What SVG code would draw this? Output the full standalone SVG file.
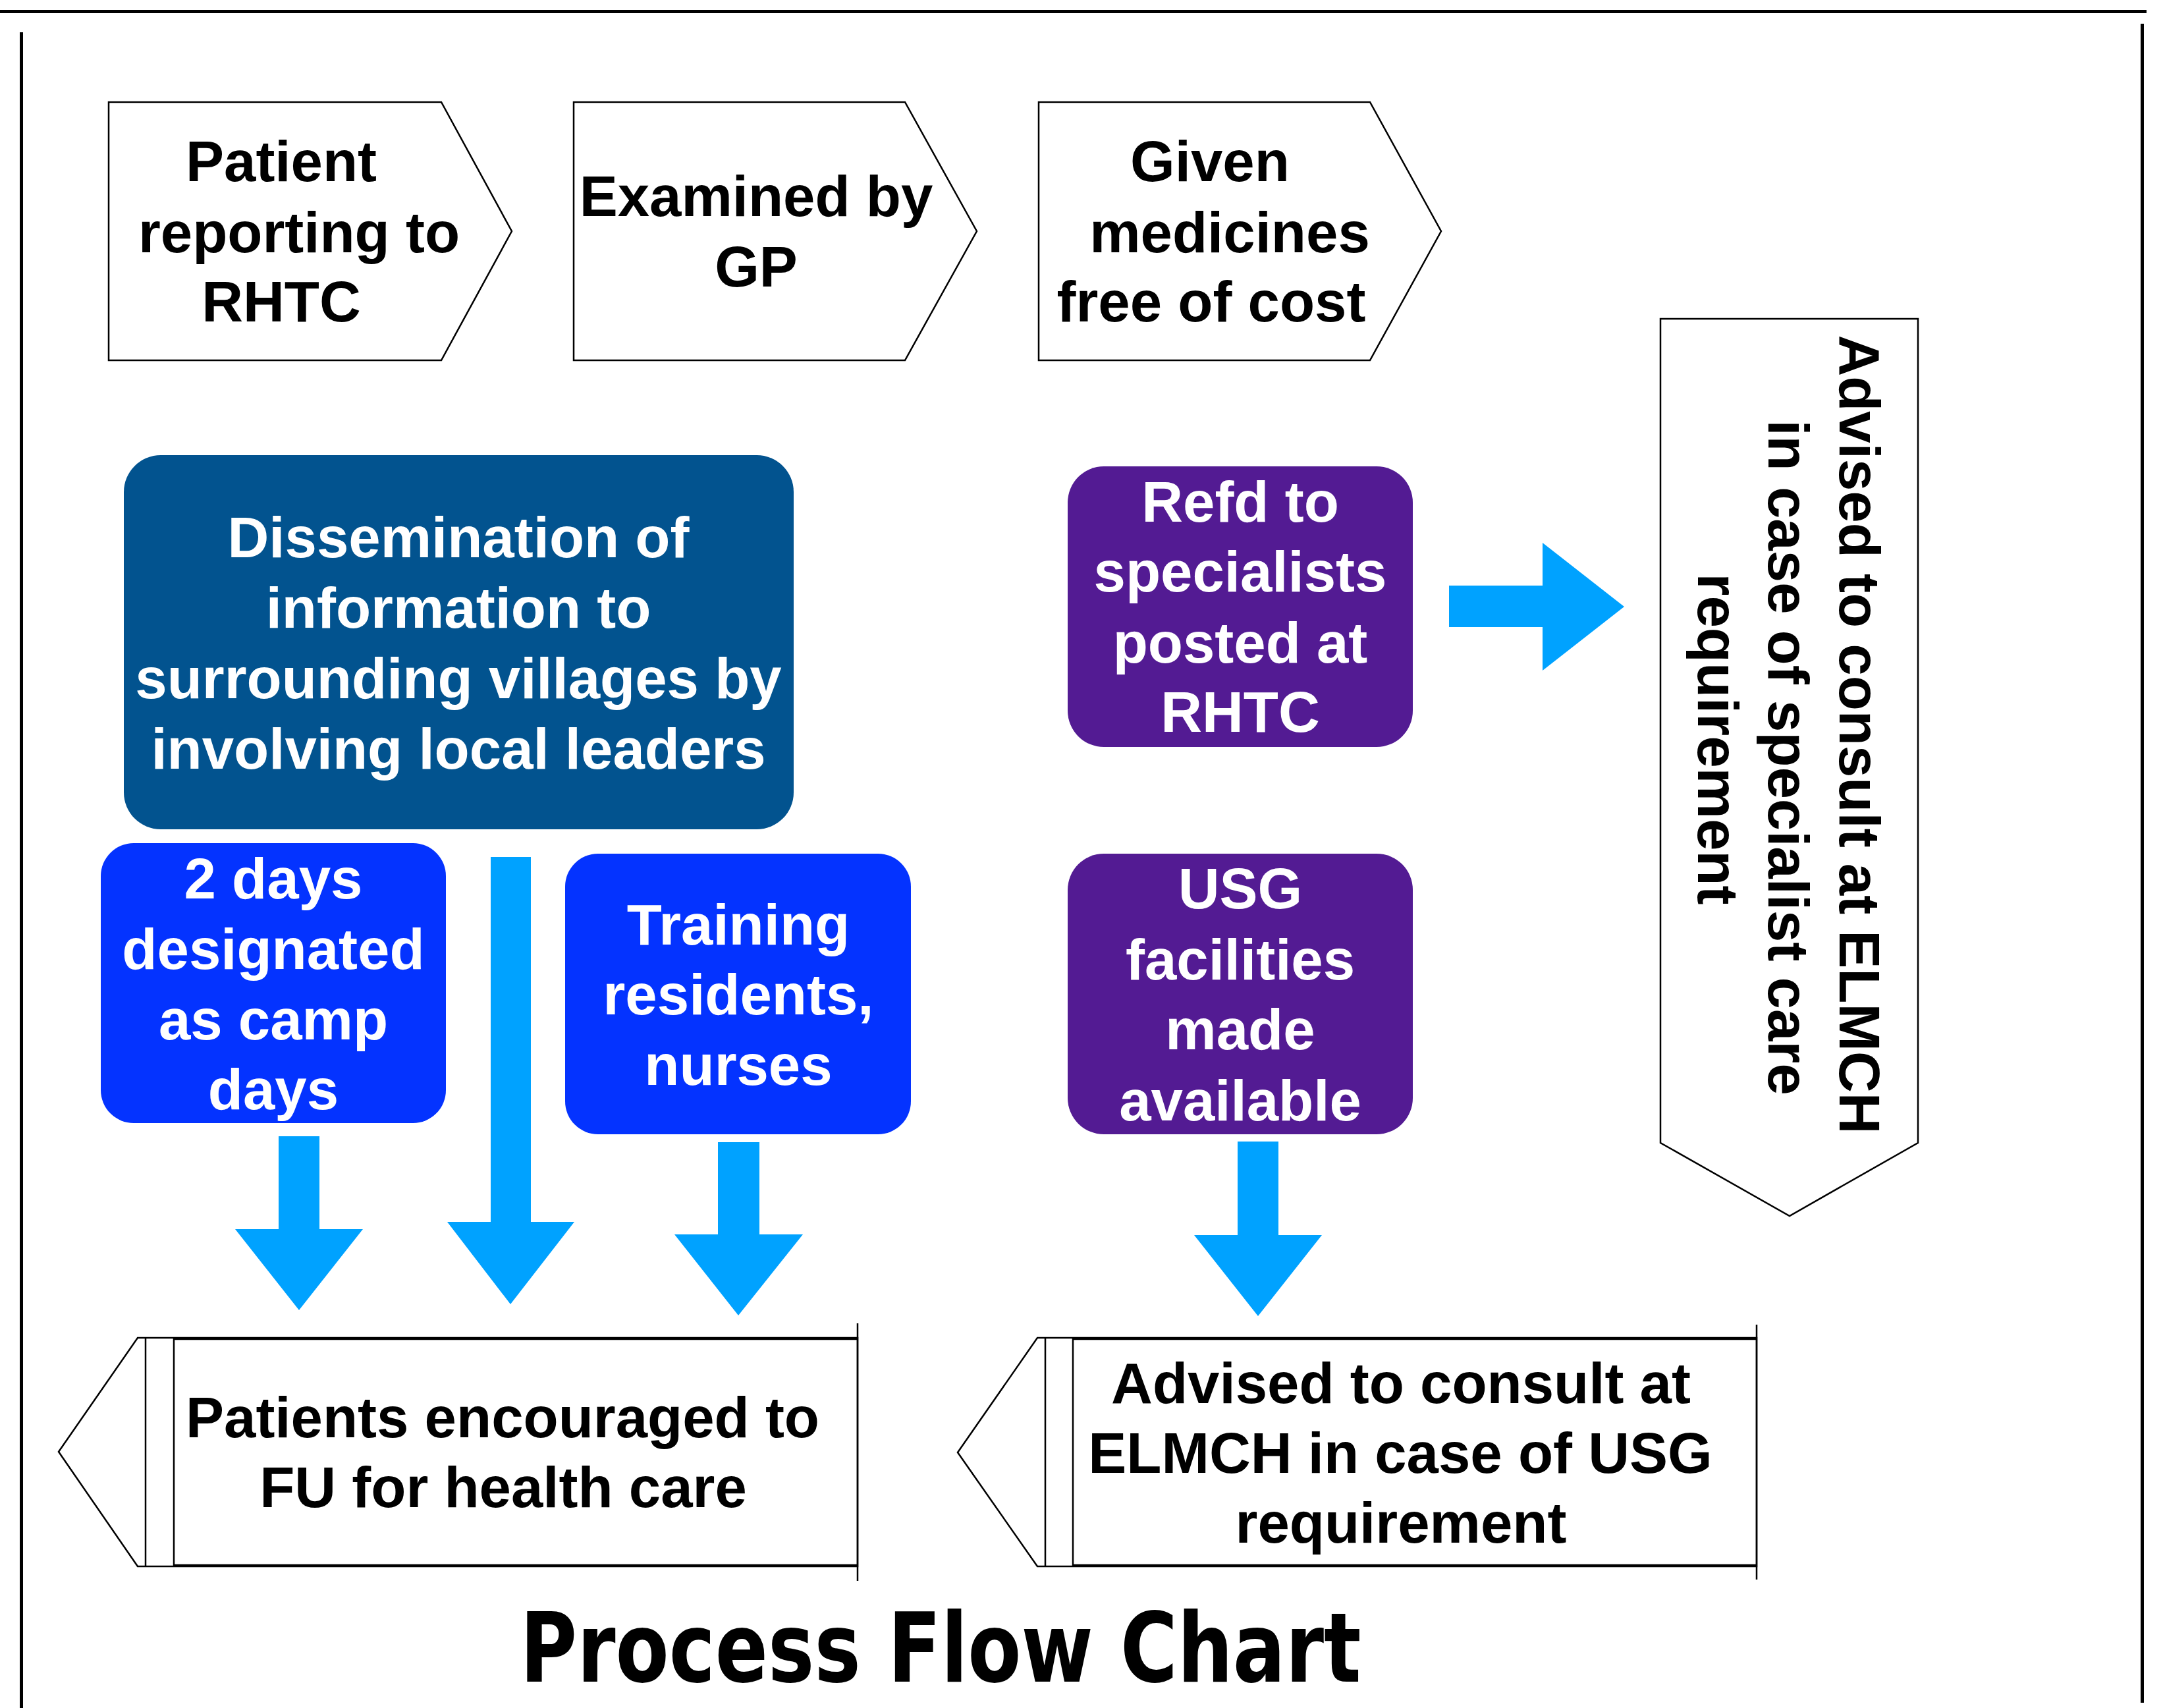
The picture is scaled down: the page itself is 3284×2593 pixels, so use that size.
<svg xmlns="http://www.w3.org/2000/svg" width="3284" height="2593" viewBox="0 0 3284 2593">
  <style>
    .lbl { font-family: "Liberation Sans", Arial, Helvetica, sans-serif; font-weight: bold; font-size: 87px; text-anchor: middle; }
    .dark { fill: #000000; }
    .light { fill: #ffffff; }
    .outline { fill: #ffffff; stroke: #000000; stroke-width: 2.5; stroke-linejoin: miter; }
    .edge { fill: none; stroke: #000000; stroke-width: 2.5; }
    .frame { fill: none; stroke: #000000; stroke-width: 5; }
    .ocean { fill: #02538F; }
    .blue { fill: #0433FF; }
    .purple { fill: #531B93; }
    .flow { fill: #00A2FF; }
    .title { font-family: "Comic Sans MS", "Chalkboard", "DejaVu Sans", sans-serif; font-weight: bold; font-size: 147px; text-anchor: middle; fill: #000000; }
  </style>

  <rect width="3284" height="2593" fill="#ffffff"/>

  <!-- page frame -->
  <g id="frame">
    <line class="frame" x1="0" y1="17.5" x2="3259" y2="17.5"/>
    <line class="frame" x1="32.5" y1="49" x2="32.5" y2="2593"/>
    <line class="frame" x1="3252.5" y1="36" x2="3252.5" y2="2585"/>
  </g>

  <!-- step chevrons -->
  <g id="step-reporting">
    <polygon class="outline" points="165,155 670,155 777,351 670,547 165,547"/>
    <text class="lbl dark" x="427" y="275">Patient</text>
    <text class="lbl dark" x="454" y="383">reporting to</text>
    <text class="lbl dark" x="427" y="488">RHTC</text>
  </g>
  <g id="step-examined">
    <polygon class="outline" points="871,155 1374,155 1483,351 1374,547 871,547"/>
    <text class="lbl dark" x="1148" y="328">Examined by</text>
    <text class="lbl dark" x="1148" y="435">GP</text>
  </g>
  <g id="step-medicines">
    <polygon class="outline" points="1577,155 2080,155 2188,351 2080,547 1577,547"/>
    <text class="lbl dark" x="1837" y="275">Given</text>
    <text class="lbl dark" x="1867" y="383">medicines</text>
    <text class="lbl dark" x="1839" y="488">free of cost</text>
  </g>

  <!-- vertical banner on the right -->
  <g id="advised-specialist">
    <polygon class="outline" points="2521,484 2912,484 2912,1735 2717,1846 2521,1735"/>
    <text class="lbl dark" transform="translate(2793,1115) rotate(90)">Advised to consult at ELMCH</text>
    <text class="lbl dark" transform="translate(2685,1150) rotate(90)">in case of specialist care</text>
    <text class="lbl dark" transform="translate(2578,1122) rotate(90)">requirement</text>
  </g>

  <!-- coloured activity boxes -->
  <g id="dissemination">
    <rect class="ocean" x="188" y="691" width="1017" height="568" rx="56" ry="56"/>
    <text class="lbl light" x="696" y="846">Dissemination of</text>
    <text class="lbl light" x="696" y="953">information to</text>
    <text class="lbl light" x="696" y="1060">surrounding villages by</text>
    <text class="lbl light" x="696" y="1167">involving local leaders</text>
  </g>
  <g id="camp-days">
    <rect class="blue" x="153" y="1280" width="524" height="425" rx="50" ry="50"/>
    <text class="lbl light" x="415" y="1364">2 days</text>
    <text class="lbl light" x="415" y="1471">designated</text>
    <text class="lbl light" x="415" y="1578">as camp</text>
    <text class="lbl light" x="415" y="1684">days</text>
  </g>
  <g id="training">
    <rect class="blue" x="858" y="1296" width="525" height="426" rx="50" ry="50"/>
    <text class="lbl light" x="1121" y="1434">Training</text>
    <text class="lbl light" x="1121" y="1540">residents,</text>
    <text class="lbl light" x="1121" y="1647">nurses</text>
  </g>
  <g id="specialists">
    <rect class="purple" x="1621" y="708" width="524" height="426" rx="55" ry="55"/>
    <text class="lbl light" x="1883" y="792">Refd to</text>
    <text class="lbl light" x="1883" y="898">specialists</text>
    <text class="lbl light" x="1883" y="1006">posted at</text>
    <text class="lbl light" x="1883" y="1111">RHTC</text>
  </g>
  <g id="usg">
    <rect class="purple" x="1621" y="1296" width="524" height="426" rx="55" ry="55"/>
    <text class="lbl light" x="1883" y="1379">USG</text>
    <text class="lbl light" x="1883" y="1487">facilities</text>
    <text class="lbl light" x="1883" y="1593">made</text>
    <text class="lbl light" x="1883" y="1701">available</text>
  </g>

  <!-- left-pointing outcome banners -->
  <g id="follow-up">
    <polygon class="outline" points="89,2204 209,2031 1302,2031 1302,2378 209,2378"/>
    <line class="edge" x1="221" y1="2031" x2="221" y2="2378"/>
    <line class="edge" x1="264" y1="2031" x2="264" y2="2378"/>
    <line class="edge" x1="1302" y1="2009" x2="1302" y2="2400"/>
    <line class="edge" x1="264" y1="2033" x2="1302" y2="2033"/>
    <line class="edge" x1="264" y1="2376" x2="1302" y2="2376"/>
    <text class="lbl dark" x="763" y="2182">Patients encouraged to</text>
    <text class="lbl dark" x="764" y="2288">FU for health care</text>
  </g>
  <g id="usg-referral">
    <polygon class="outline" points="1454,2205 1575,2031 2667,2031 2667,2378 1575,2378"/>
    <line class="edge" x1="1587" y1="2031" x2="1587" y2="2378"/>
    <line class="edge" x1="1629" y1="2031" x2="1629" y2="2378"/>
    <line class="edge" x1="2667" y1="2011" x2="2667" y2="2398"/>
    <line class="edge" x1="1629" y1="2033" x2="2667" y2="2033"/>
    <line class="edge" x1="1629" y1="2376" x2="2667" y2="2376"/>
    <text class="lbl dark" x="2127" y="2130">Advised to consult at</text>
    <text class="lbl dark" x="2126" y="2236">ELMCH in case of USG</text>
    <text class="lbl dark" x="2127" y="2342">requirement</text>
  </g>

  <!-- block arrows -->
  <g id="connectors">
    <polygon class="flow" points="2200,889 2342,889 2342,824 2466,921 2342,1018 2342,952 2200,952"/>
    <polygon class="flow" points="1879,1733 1941,1733 1941,1875 2007,1875 1910,1998 1813,1875 1879,1875"/>
    <polygon class="flow" points="423,1725 485,1725 485,1866 551,1866 454,1989 357,1866 423,1866"/>
    <polygon class="flow" points="745,1301 806,1301 806,1855 872,1855 775,1980 679,1855 745,1855"/>
    <polygon class="flow" points="1090,1734 1153,1734 1153,1874 1219,1874 1121,1997 1024,1874 1090,1874"/>
  </g>

  <text class="title" x="1428" y="2553" textLength="1277" lengthAdjust="spacingAndGlyphs">Process Flow Chart</text>
</svg>
